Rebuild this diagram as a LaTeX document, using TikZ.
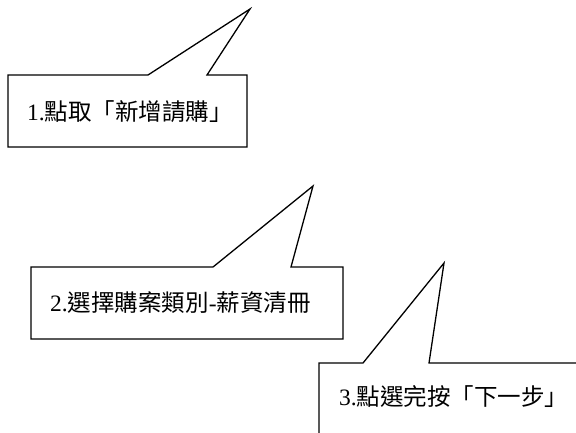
\documentclass[tikz,border=0pt]{standalone}
\usepackage{fontspec}
\setmainfont{Liberation Serif}
\newfontfamily\cjk{Noto Sans CJK TC}
\begin{document}
\begin{tikzpicture}[x=1bp,y=-1bp,
  callout/.style={draw=black,line width=1.3bp,fill=white,line join=miter},
  label/.style={anchor=west,inner sep=0pt,font=\fontsize{23.5bp}{26bp}\selectfont}]
\useasboundingbox (0,0) rectangle (576,432);
\clip (0,0) rectangle (576,432);
% callout 1
\draw[callout] (8,75) -- (148,75) -- (250,9) -- (207,75) -- (247,75) -- (247,147) -- (8,147) -- cycle;
\node[label] (t1) at (27,112) {1.{\cjk 點取「新增請購」}};
% callout 2
\draw[callout] (31,267) -- (213,267) -- (313,186) -- (291,267) -- (343,267) -- (343,339) -- (31,339) -- cycle;
\node[label] (t2) at (50,303) {2.{\cjk 選擇購案類別}-{\cjk 薪資清冊}};
% callout 3
\draw[callout] (319,363) -- (363,363) -- (444,263) -- (429,363) -- (600,363) -- (600,460) -- (319,460) -- cycle;
\node[label] (t3) at (339,397) {3.{\cjk 點選完按「下一步」}};
\end{tikzpicture}
\end{document}
